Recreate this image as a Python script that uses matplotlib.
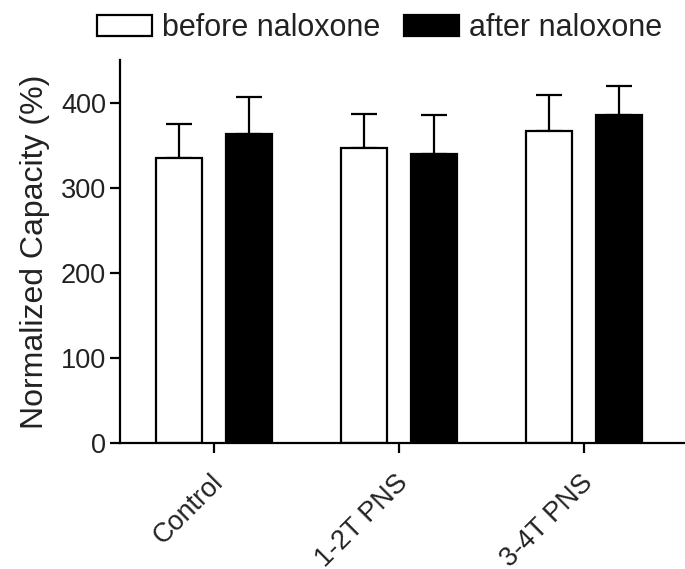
import matplotlib
matplotlib.use("Agg")
import matplotlib.pyplot as plt
import matplotlib.transforms as mtransforms
import numpy as np

plt.rcParams['font.family'] = ['Liberation Sans', 'DejaVu Sans']

groups = ['Control', '1-2T PNS', '3-4T PNS']
before = [335, 347, 367]
before_err = [40, 40, 42]
after = [363, 340, 385]
after_err = [44, 45, 35]

fig = plt.figure(figsize=(6.85, 5.69), dpi=100)
ax = fig.add_axes([0.175, 0.2214, 0.825, 0.673])

x = np.arange(len(groups))
w = 0.25
off = 0.19
ax.bar(x - off, before, w, color='white', edgecolor='black', linewidth=1.6,
       label='before naloxone', zorder=2)
ax.bar(x + off, after, w, color='black', edgecolor='black', linewidth=1.6,
       label='after naloxone', zorder=2)
ax.errorbar(x - off, before, yerr=[np.zeros(3), before_err], fmt='none',
            ecolor='black', elinewidth=1.6, capsize=9.5, capthick=1.6, zorder=1)
ax.errorbar(x + off, after, yerr=[np.zeros(3), after_err], fmt='none',
            ecolor='black', elinewidth=1.6, capsize=9.5, capthick=1.6, zorder=1)

ax.set_xlim(-0.508, 2.546)
ax.set_ylim(0, 450)
ax.set_yticks([0, 100, 200, 300, 400])
ax.set_xticks(x)
ax.set_xticklabels(groups, rotation=45, ha='right', va='top',
                   rotation_mode='anchor')
ax.tick_params(axis='both', labelsize=19.5, width=1.6, length=7, color='black',
               labelcolor='#222222')
ax.tick_params(axis='x', pad=12)
ax.tick_params(axis='y', pad=3)
# nudge rotated labels a little to the left
shift = mtransforms.ScaledTranslation(-4 / 100, 0, fig.dpi_scale_trans)
for lab in ax.get_xticklabels():
    lab.set_transform(lab.get_transform() + shift)
ax.spines['top'].set_visible(False)
ax.spines['right'].set_visible(False)
ax.spines['left'].set_linewidth(1.6)
ax.spines['bottom'].set_linewidth(1.6)
ax.set_ylabel('Normalized Capacity (%)', fontsize=23, color='#222222', labelpad=8)

fig.legend(loc='upper left', bbox_to_anchor=(0.1416, 0.977), ncol=2, frameon=False,
           fontsize=22, handlelength=1.8, handleheight=0.71, handletextpad=0.32,
           columnspacing=0.8, borderpad=0, borderaxespad=0,
           labelcolor='#222222')

fig.savefig('out.png', dpi=100)
